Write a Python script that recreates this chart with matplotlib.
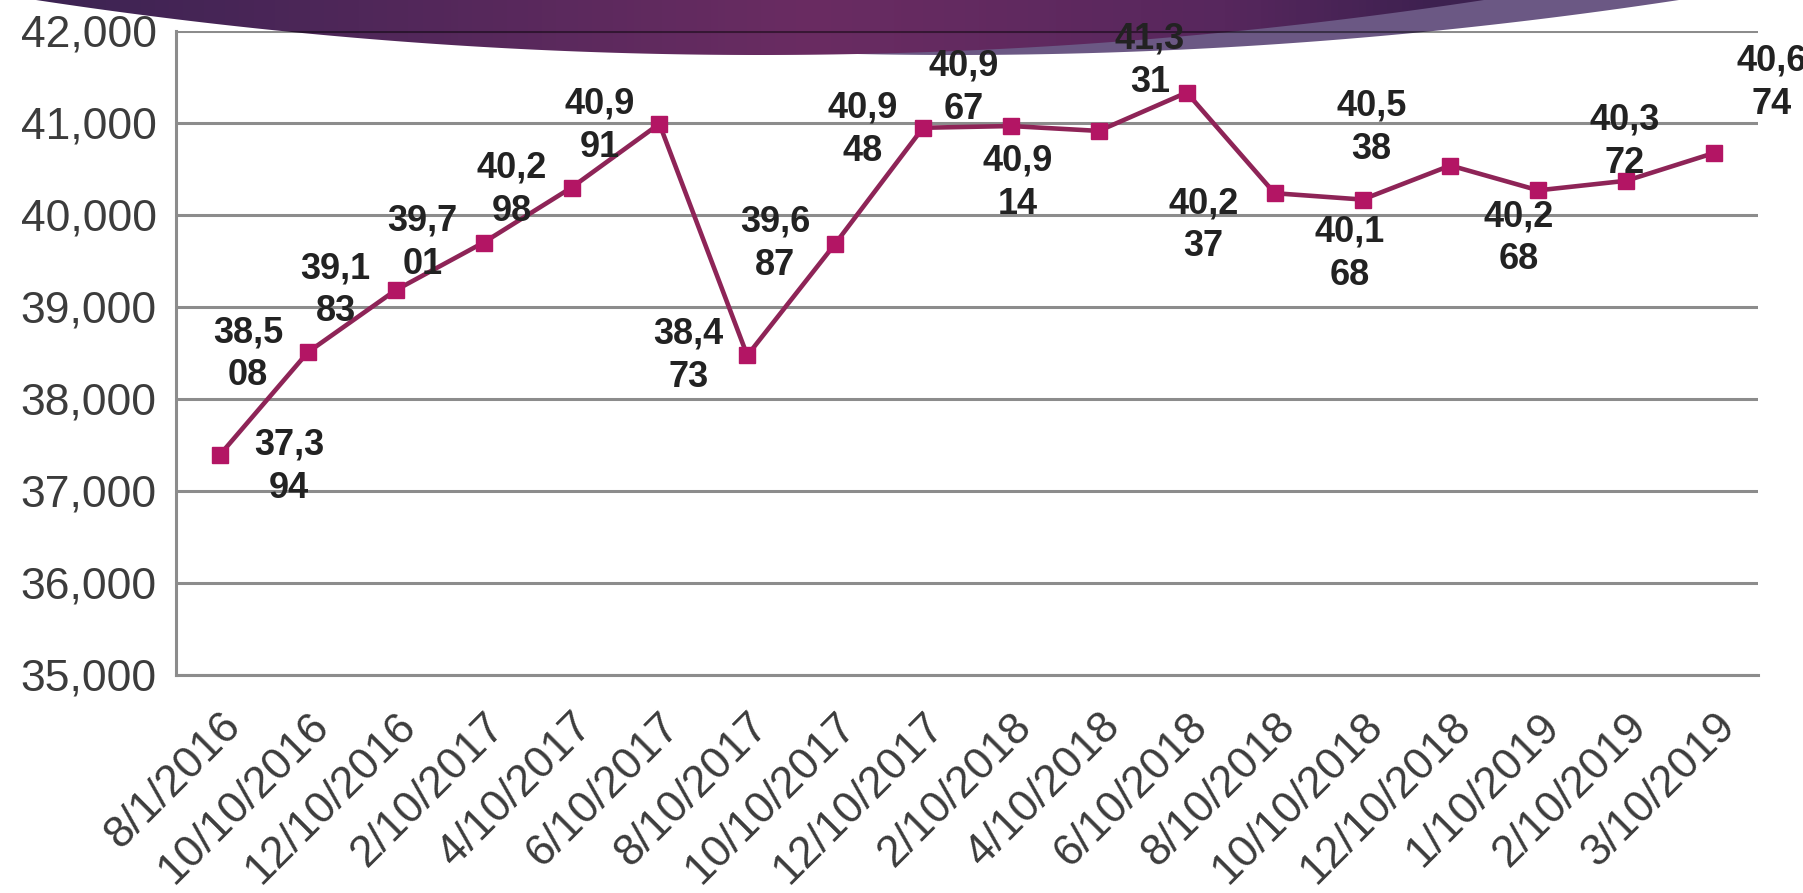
import numpy as np
import matplotlib.pyplot as plt
from matplotlib.patches import Polygon
from matplotlib.colors import LinearSegmentedColormap
from matplotlib.ticker import FuncFormatter

plt.rcParams["font.family"] = ["Liberation Sans", "DejaVu Sans"]

dates = ["8/1/2016", "10/10/2016", "12/10/2016", "2/10/2017", "4/10/2017",
         "6/10/2017", "8/10/2017", "10/10/2017", "12/10/2017", "2/10/2018",
         "4/10/2018", "6/10/2018", "8/10/2018", "10/10/2018", "12/10/2018",
         "1/10/2019", "2/10/2019", "3/10/2019"]
values = [37394, 38508, 39183, 39701, 40298, 40991, 38473, 39687, 40948,
          40967, 40914, 41331, 40237, 40168, 40538, 40268, 40372, 40674]

# where each data label sits relative to its point (pixels, +y is up)
label_dx = [69, -60, -60, -61, -60, -60, -59, -60, -60, -47, -81, -37, -71, -13, -79, -20, -2, 58]
label_dy = [-12, -2, 0, 0, -2, -2, 0, 0, -2, 38, -52, 32, -32, -54, 38, -48, 39, 70]

LINE = "#8e2457"
MARK = "#b31564"
W, H = 1803, 893

fig = plt.figure(figsize=(W / 100, H / 100), dpi=100, facecolor="white")

# slide decoration behind the chart
bg = fig.add_axes([0, 0, 1, 1], zorder=0)


def arc(shift):
    xs = np.linspace(36, 1484, 300) + shift
    ys = 55 * (1 - ((xs - 760 - shift) / 724) ** 2)
    return np.column_stack([np.r_[xs, xs[-1], xs[0]], np.r_[ys, -5, -5]])


bg.add_patch(Polygon(arc(195), closed=True, facecolor="#6b5884", edgecolor="none", zorder=1))
banner = LinearSegmentedColormap.from_list(
    "banner", [(0, "#3a2352"), (0.45, "#6a2c62"), (0.68, "#57275d"), (0.8, "#3d2150"), (1, "#3d2150")])
img = bg.imshow(np.linspace(0, 1, 256)[None, :], cmap=banner, extent=[0, W, 60, -5],
                aspect="auto", zorder=2)
dark = Polygon(arc(0), closed=True, facecolor="none", edgecolor="none")
bg.add_patch(dark)
img.set_clip_path(dark)
bg.set_xlim(0, W)
bg.set_ylim(H, 0)
bg.axis("off")

ax = fig.add_axes([176 / W, 1 - 675 / H, (1758 - 176) / W, (675 - 31) / H], zorder=1)
ax.patch.set_alpha(0)

x = np.arange(len(dates))
ax.plot(x, values, color=LINE, lw=3.3, marker="s", ms=12, mfc=MARK, mec=MARK, zorder=3)

ax.set_xlim(-0.5, len(dates) - 0.5)
ax.set_ylim(35000, 42000)
ax.set_yticks(range(35000, 42001, 1000))
ax.yaxis.set_major_formatter(FuncFormatter(lambda v, _: f"{v:,.0f}"))
ax.set_xticks(x)
ax.set_xticklabels(dates, rotation=45, ha="right", rotation_mode="anchor")
ax.tick_params(length=0, labelsize=32, labelcolor="#3c3c3c")
ax.tick_params(axis="y", pad=14)
ax.tick_params(axis="x", pad=22)

ax.grid(axis="y", color="black", alpha=0.45, lw=2.2)
ax.set_axisbelow(True)
for s in ["top", "right"]:
    ax.spines[s].set_visible(False)
for s in ["left", "bottom"]:
    ax.spines[s].set_color("#8c8c8c")
    ax.spines[s].set_linewidth(2.2)

for i, v in enumerate(values):
    s = f"{v:,}"
    ax.annotate(s[:4] + "\n" + s[4:], (i, v), xytext=(label_dx[i], label_dy[i]),
                textcoords="offset pixels", ha="center", va="center", fontsize=26,
                fontweight="bold", color="#222222", linespacing=1.3,
                annotation_clip=False, zorder=4)

fig.savefig("out.png", dpi=100)
